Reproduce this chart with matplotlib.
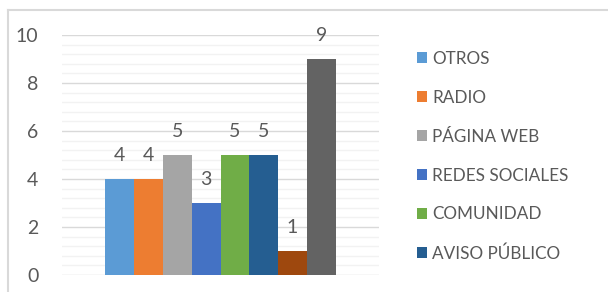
import matplotlib.pyplot as plt
from matplotlib.patches import Patch
from matplotlib.ticker import MultipleLocator

# Datos del gráfico (una categoría, ocho series)
series = ["OTROS", "RADIO", "PÁGINA WEB", "REDES SOCIALES", "COMUNIDAD",
          "AVISO PÚBLICO", "SERIE 7", "SERIE 8"]
values = [4, 4, 5, 3, 5, 5, 1, 9]
colors = ["#5B9BD5", "#ED7D31", "#A5A5A5", "#4472C4", "#70AD47",
          "#255E91", "#9E480E", "#636363"]
legend_count = 6  # la leyenda original sólo muestra las seis primeras

text_color = "#595959"
plt.rcParams["font.family"] = ["Lato", "DejaVu Sans"]

fig = plt.figure(figsize=(6.08, 2.92), dpi=100)
W, H = 608, 292

# Marco del área del gráfico (borde gris, recortado a derecha y abajo)
fig.add_artist(plt.Line2D([8 / W, 8 / W], [0, 1 - 10 / H], transform=fig.transFigure,
                          color="#D9D9D9", lw=1.5))
fig.add_artist(plt.Line2D([8 / W, 1], [1 - 10 / H, 1 - 10 / H], transform=fig.transFigure,
                          color="#D9D9D9", lw=1.5))

ax = fig.add_axes([62 / W, 1 - 275 / H, (379 - 62) / W, (275 - 35) / H])

n = len(values)
xs = [i - (n - 1) / 2 for i in range(n)]
ax.bar(xs, values, width=1.0, color=colors, zorder=3)

for x, v in zip(xs, values):
    ax.annotate(str(v), (x, v), xytext=(0, 17), textcoords="offset points",
                ha="center", va="center", fontsize=14, color=text_color,
                annotation_clip=False)

ax.set_xlim(-5.51, 5.51)
ax.set_ylim(0, 10)
ax.yaxis.set_major_locator(MultipleLocator(2))
ax.yaxis.set_minor_locator(MultipleLocator(0.4))
ax.grid(axis="y", which="major", color="#D9D9D9", lw=1.0, zorder=0)
ax.grid(axis="y", which="minor", color="#F2F2F2", lw=1.0, zorder=0)
ax.set_xticks([])
ax.tick_params(axis="y", which="both", length=0, labelsize=14,
               labelcolor=text_color, pad=17)
for s in ax.spines.values():
    s.set_visible(False)

handles = [Patch(facecolor=c, edgecolor="none") for c in colors[:legend_count]]
fig.legend(handles, series[:legend_count], loc="upper left",
           bbox_to_anchor=(410 / W, 1 - 44 / H), frameon=False,
           fontsize=12.3, labelcolor=text_color, handlelength=0.6,
           handleheight=0.6, handletextpad=0.3, labelspacing=1.34,
           borderaxespad=0)

fig.savefig("out.png", dpi=100)
